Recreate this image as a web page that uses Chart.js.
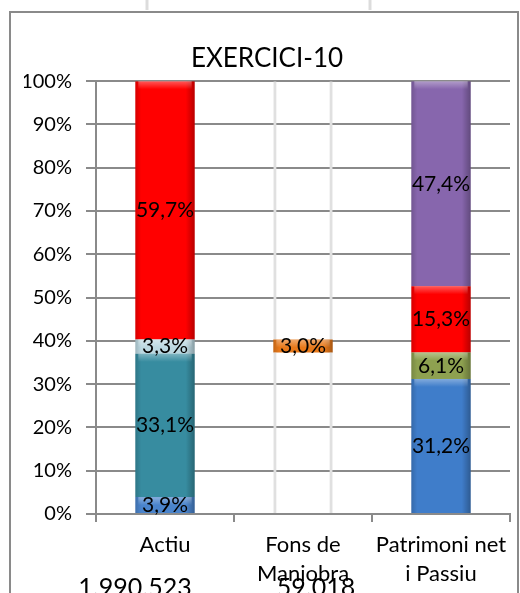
<!DOCTYPE html>
<html lang="ca">
<head>
<meta charset="utf-8">
<title>Exercici-10</title>
<script src="https://cdn.jsdelivr.net/npm/chart.js@4.4.0/dist/chart.umd.min.js"></script>
<style>
  html, body { margin: 0; padding: 0; background: #fff; }
  #wrap { width: 520px; height: 593px; }
</style>
</head>
<body>
<div id="wrap"><canvas id="chart" width="520" height="593"></canvas></div>
<script>
const categories = [["Actiu"], ["Fons de", "Maniobra"], ["Patrimoni net", "i Passiu"]];
// Actiu, from bottom to top
const actiu = [3.9, 33.1, 3.3, 59.7];
// Fons de maniobra: hidden base, the fund, hidden remainder
const fons = [37.3, 3.0, 59.7];
// Patrimoni net i passiu, from bottom to top
const patrimoni = [31.2, 6.1, 15.3, 47.4];
// amounts written under the categories
const totals = ["1.990.523", "59.018", ""];

const FONT = "Lato";
const GRID = "#8a8a8a";
const HIDDEN = "hidden";

// segment colours per stack level: [Actiu, Fons, Patrimoni]
const levelColors = [
  ["#4a84cc", HIDDEN, "#3f7dca"],
  ["#378ca0", "#e8791a", "#8ea150"],
  ["#bcd8e1", HIDDEN, "#ff0000"],
  ["#ff0000", null, "#8766ad"]
];

const datasets = levelColors.map((cols, lvl) => ({
  label: "nivell " + lvl,
  data: [actiu[lvl], fons[lvl] ?? null, patrimoni[lvl]],
  backgroundColor: cols.map(c => c === HIDDEN || !c ? "rgba(0,0,0,0)" : c),
  borderColor: cols.map(c => c === HIDDEN ? "#e0e0e0" : "rgba(0,0,0,0)"),
  borderWidth: cols.map(c => c === HIDDEN ? { left: 3, right: 3, top: 0, bottom: 0 } : 0),
  borderSkipped: false,
  hiddenSeg: cols.map(c => c === HIDDEN)
}));

// bevel-ish shading and value labels on the visible segments
const segmentLabels = {
  id: "segmentLabels",
  afterDatasetsDraw(chart) {
    const ctx = chart.ctx;
    chart.data.datasets.forEach((ds, di) => {
      chart.getDatasetMeta(di).data.forEach((el, i) => {
        const v = ds.data[i];
        if (v == null || ds.hiddenSeg[i]) return;
        const left = el.x - el.width / 2, top = el.y, h = el.base - el.y;
        ctx.save();
        const g = ctx.createLinearGradient(left, 0, left + el.width, 0);
        g.addColorStop(0, "rgba(0,0,0,0.16)");
        g.addColorStop(0.1, "rgba(0,0,0,0)");
        g.addColorStop(0.85, "rgba(0,0,0,0)");
        g.addColorStop(1, "rgba(0,0,0,0.28)");
        ctx.fillStyle = g;
        ctx.fillRect(left, top, el.width, h);
        const hl = Math.min(8, h);
        const gv = ctx.createLinearGradient(0, top, 0, top + hl);
        gv.addColorStop(0, "rgba(255,255,255,0.35)");
        gv.addColorStop(1, "rgba(255,255,255,0)");
        ctx.fillStyle = gv;
        ctx.fillRect(left + 3, top, el.width - 6, hl);
        ctx.fillStyle = "#000";
        ctx.font = "21px " + FONT;
        ctx.textAlign = "center";
        ctx.textBaseline = "middle";
        ctx.fillText(v.toFixed(1).replace(".", ",") + "%", el.x, top + h / 2);
        ctx.restore();
      });
    });
  }
};

// frame around the chart and the amounts below the axis
const decorations = {
  id: "decorations",
  afterDraw(chart) {
    const ctx = chart.ctx;
    const xs = chart.scales.x;
    ctx.save();
    ctx.strokeStyle = "#dcdcdc";
    ctx.lineWidth = 3;
    [147, 370].forEach(x => {
      ctx.beginPath(); ctx.moveTo(x, 0); ctx.lineTo(x, 10); ctx.stroke();
    });
    ctx.strokeStyle = "#8a8a8a";
    ctx.lineWidth = 2;
    ctx.beginPath();
    ctx.moveTo(10, 600); ctx.lineTo(10, 12); ctx.lineTo(518, 12); ctx.lineTo(518, 600);
    ctx.stroke();
    const shift = [-30, 13, 0];
    ctx.fillStyle = "#000";
    ctx.font = "25px " + FONT;
    ctx.textAlign = "center";
    ctx.textBaseline = "alphabetic";
    totals.forEach((t, i) => {
      if (t) ctx.fillText(t, xs.getPixelForValue(i) + shift[i], 596);
    });
    ctx.restore();
  }
};

new Chart(document.getElementById("chart"), {
  type: "bar",
  data: { labels: categories, datasets },
  plugins: [segmentLabels, decorations],
  options: {
    responsive: false,
    animation: false,
    layout: { padding: { left: 24, right: 10, top: 0, bottom: 0 } },
    datasets: { bar: { categoryPercentage: 1, barPercentage: 0.43 } },
    plugins: {
      legend: { display: false },
      tooltip: { enabled: false },
      title: {
        display: true,
        text: "EXERCICI-10",
        color: "#000",
        font: { family: FONT, size: 26, weight: "normal", lineHeight: 1.2 },
        padding: { top: 43, bottom: 7 }
      }
    },
    scales: {
      x: {
        stacked: true,
        grid: { offset: true, drawOnChartArea: false, color: GRID, lineWidth: 2, tickLength: 8 },
        border: { color: GRID, width: 2 },
        ticks: {
          color: "#000",
          font: { family: FONT, size: 22, lineHeight: 1.3 },
          padding: 9, maxRotation: 0, autoSkip: false
        },
        afterFit: s => { s.height = 79; }
      },
      y: {
        stacked: true,
        min: 0, max: 100,
        grid: { color: GRID, lineWidth: 2, tickLength: 10 },
        border: { color: GRID, width: 2 },
        ticks: {
          stepSize: 10,
          color: "#000",
          font: { family: FONT, size: 20 },
          padding: 14,
          callback: v => v + "%"
        },
        afterFit: s => { s.width = 72; }
      }
    }
  }
});
</script>
</body>
</html>
